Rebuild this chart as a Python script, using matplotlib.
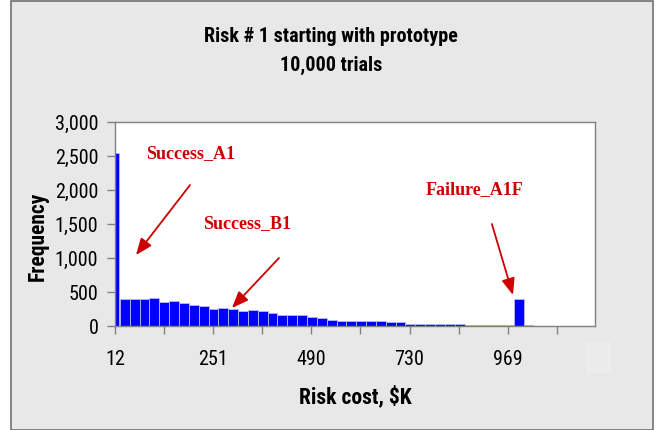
import matplotlib
matplotlib.use("Agg")
import matplotlib.pyplot as plt
from matplotlib.patches import Rectangle
from matplotlib.ticker import FuncFormatter

# histogram of simulated risk cost, $K
first_bin = (12, 22)
first_count = 2540
bin_start = 24
bin_width = 24
counts = [390, 390, 390, 415, 355, 375, 335, 315, 295, 252, 272, 252,
          214, 233, 214, 194, 155, 155, 155, 130, 111, 92, 72, 72,
          72, 72, 72, 53, 53, 34, 34, 34, 34, 34, 34, 15,
          15, 15, 15, 15, 395, 10]

tick_values = [12, 131.65, 251.3, 370.95, 490.6, 610.25, 729.9, 849.55, 969.2, 1088.85]
tick_labels = ["12", "", "251", "", "490", "", "730", "", "969", ""]

notes = [
    ("Success_A1", (197, 2530), (194.8, 2073), (63.2, 1044)),
    ("Success_B1", (333.7, 1500), (411.7, 1000), (297.1, 265)),
    ("Failure_A1F", (889, 2000), (930.7, 1500), (982, 456)),
]

plt.rcParams["font.family"] = ["Roboto Condensed", "PT Sans Narrow", "Liberation Sans", "DejaVu Sans"]

bg = "#e8e8e8"
fig = plt.figure(figsize=(6.57, 4.30), dpi=100, facecolor="white")
W, H = 657, 430

# grey chart frame
fig.patches.append(Rectangle((11 / W, 0), (653 - 11) / W, 1 - 1 / H,
                             transform=fig.transFigure, facecolor=bg,
                             edgecolor="#707070", linewidth=1.2, zorder=-10))

ax = fig.add_axes([115 / W, 1 - 326 / H, (595 - 115) / W, (326 - 122) / H])
ax.set_facecolor("white")

ax.bar(first_bin[0], first_count, width=first_bin[1] - first_bin[0], align="edge",
       color="#0000ff", edgecolor="#b8b8ff", linewidth=0.6)
lefts = [bin_start + bin_width * i for i in range(len(counts))]
ax.bar(lefts, counts, width=bin_width, align="edge",
       color="#0000ff", edgecolor="#b8b8ff", linewidth=0.6)

ax.set_xlim(12, 1182)
ax.set_ylim(0, 3000)
ax.set_yticks(range(0, 3001, 500))
ax.yaxis.set_major_formatter(FuncFormatter(lambda v, p: f"{int(v):,}"))
ax.set_xticks(tick_values)
ax.set_xticklabels(tick_labels)

for s in ax.spines.values():
    s.set_color("#808080")
    s.set_linewidth(1.0)
ax.tick_params(axis="both", direction="out", length=6, width=1, color="#808080",
               labelsize=14.5, labelcolor="black")
ax.tick_params(axis="x", pad=11)
ax.tick_params(axis="y", pad=6)

ax.set_ylabel("Frequency", fontsize=15.5, fontweight="bold")
ax.yaxis.set_label_coords(-0.137, 0.44)
ax.set_xlabel("Risk cost, $K", fontsize=15.5, fontweight="bold", labelpad=12)

fig.text(331 / W, 1 - 37 / H, "Risk # 1 starting with prototype", ha="center",
         va="center", fontsize=14.5, fontweight="bold")
fig.text(331 / W, 1 - 65 / H, "10,000 trials", ha="center", va="center",
         fontsize=14.5, fontweight="bold")

red = "#cc0000"
for label, txt_xy, tail, head in notes:
    ax.text(*txt_xy, label, ha="center", va="center", color=red, fontsize=13,
            fontweight="bold", family="Liberation Serif")
    ax.annotate("", xy=head, xytext=tail,
                arrowprops=dict(arrowstyle="-|>,head_length=1.0,head_width=0.4",
                                color=red, lw=1.3, shrinkA=0, shrinkB=0))

# blank patch over the last axis label
fig.patches.append(Rectangle((586 / W, 1 - 373 / H), 25 / W, 31 / H,
                             transform=fig.transFigure, facecolor="#ececec",
                             edgecolor="none", zorder=5))

fig.savefig("out.png", dpi=100, facecolor=fig.get_facecolor())
